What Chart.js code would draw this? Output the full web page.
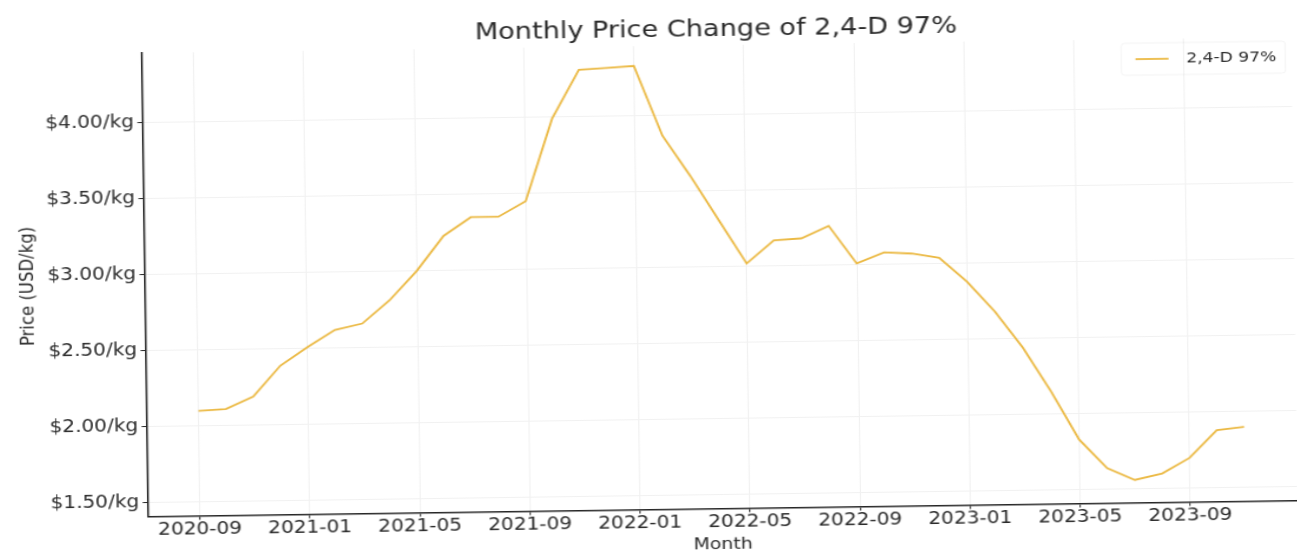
<!DOCTYPE html>
<html>
<head>
<meta charset="utf-8">
<title>Monthly Price Change of 2,4-D 97%</title>
<script src="https://cdn.jsdelivr.net/npm/chart.js@4.4.1/dist/chart.umd.min.js"></script>
<style>
  html, body { margin: 0; padding: 0; background: #ffffff; overflow: hidden; }
  #wrap { width: 1297px; height: 556px; position: relative; overflow: hidden; background: #ffffff; }
  #c { display: block; transform: rotate(-0.8deg); transform-origin: 648.5px 278px; }
</style>
</head>
<body>
<div id="wrap">
  <canvas id="c" width="1099" height="556" style="width:1297px;height:556px;"></canvas>
</div>
<script>
// ---------------- data ----------------
const months = [
  '2020-09', '2020-10', '2020-11', '2020-12',
  '2021-01', '2021-02', '2021-03', '2021-04', '2021-05', '2021-06',
  '2021-07', '2021-08', '2021-09', '2021-10', '2021-11', '2021-12',
  '2022-01', '2022-02', '2022-03', '2022-04', '2022-05', '2022-06',
  '2022-07', '2022-08', '2022-09', '2022-10', '2022-11', '2022-12',
  '2023-01', '2023-02', '2023-03', '2023-04', '2023-05', '2023-06',
  '2023-07', '2023-08', '2023-09', '2023-10', '2023-11'
];
const prices = [
  2.10, 2.11, 2.19, 2.39,
  2.51, 2.62, 2.66, 2.81, 3.00, 3.23,
  3.35, 3.35, 3.45, 3.99, 4.31, 4.32,
  4.33, 3.87, 3.60, 3.31, 3.02, 3.17,
  3.18, 3.26, 3.01, 3.08, 3.07, 3.04,
  2.88, 2.68, 2.44, 2.15, 1.83, 1.64,
  1.56, 1.60, 1.70, 1.88, 1.90
];
const xTickLabels = ['2020-09', '2021-01', '2021-05', '2021-09', '2022-01', '2022-05', '2022-09', '2023-01', '2023-05', '2023-09'];
const yTickValues = [1.5, 2.0, 2.5, 3.0, 3.5, 4.0];
const seriesLabel = '2,4-D 97%';
const chartTitle = 'Monthly Price Change of 2,4-D 97%';
const xAxisTitle = 'Month';
const yAxisTitle = 'Price (USD/kg)';

// ---------------- styling ----------------
const FONT = '"DejaVu Sans", "Liberation Sans", sans-serif';
const TEXT = '#2a2a2a';
const LINE = '#ebb943';
const GRID = '#f1f1f1';
const AXIS = '#262626';

const points = months.map((m, i) => ({ x: i, y: prices[i] }));

const insideLegend = {
  id: 'insideLegend',
  afterDraw(chart) {
    const { ctx, chartArea } = chart;
    const ds = chart.data.datasets[0];
    const r = chartArea.right, t = chartArea.top;
    ctx.save();
    ctx.strokeStyle = 'rgba(0,0,0,0.05)';
    ctx.lineWidth = 1;
    ctx.beginPath();
    ctx.roundRect(r - 144, t + 4, 139, 32, 3);
    ctx.stroke();
    ctx.strokeStyle = ds.borderColor;
    ctx.lineWidth = ds.borderWidth;
    ctx.beginPath();
    ctx.moveTo(r - 132, t + 20);
    ctx.lineTo(r - 104, t + 20);
    ctx.stroke();
    ctx.fillStyle = TEXT;
    ctx.font = '14.5px ' + FONT;
    ctx.textAlign = 'left';
    ctx.textBaseline = 'middle';
    ctx.fillText(ds.label, r - 89, t + 20.6);
    ctx.restore();
  }
};

new Chart(document.getElementById('c'), {
  type: 'line',
  data: {
    datasets: [{
      label: seriesLabel,
      data: points,
      borderColor: LINE,
      backgroundColor: LINE,
      borderWidth: 1.8,
      pointRadius: 0,
      tension: 0,
      fill: false
    }]
  },
  options: {
    responsive: false,
    devicePixelRatio: 1,
    animation: false,
    events: [],
    layout: { padding: { left: 0, right: 2.3, top: 0, bottom: 0 } },
    plugins: {
      legend: { display: false },
      tooltip: { enabled: false },
      title: {
        display: true,
        text: chartTitle,
        color: TEXT,
        fullSize: false,
        font: { family: FONT, size: 23, weight: 'normal' },
        padding: { top: 17, bottom: 1.4 }
      }
    },
    scales: {
      x: {
        type: 'linear',
        min: -1.9,
        max: 39.9,
        afterFit(scale) { scale.height = 46.5; },
        afterBuildTicks(scale) {
          scale.ticks = xTickLabels.map(l => ({ value: months.indexOf(l) }));
        },
        ticks: {
          autoSkip: false,
          maxRotation: 0,
          minRotation: 0,
          padding: 0,
          color: TEXT,
          font: { family: FONT, size: 17 },
          callback: (v) => months[v]
        },
        grid: { color: GRID, lineWidth: 1, drawTicks: true, tickLength: 4, tickColor: AXIS, tickWidth: 1 },
        border: { display: true, color: AXIS, width: 1.5 },
        title: {
          display: true,
          text: xAxisTitle,
          color: TEXT,
          font: { family: FONT, size: 16 },
          padding: { top: 0, bottom: 1 }
        }
      },
      y: {
        type: 'linear',
        min: 1.41,
        max: 4.46,
        afterFit(scale) { scale.width = 122.3; },
        afterBuildTicks(scale) {
          scale.ticks = yTickValues.map(v => ({ value: v }));
        },
        ticks: {
          padding: 3,
          color: TEXT,
          font: { family: FONT, size: 17 },
          callback: (v) => '$' + Number(v).toFixed(2) + '/kg'
        },
        grid: { color: GRID, lineWidth: 1, drawTicks: true, tickLength: 4, tickColor: AXIS, tickWidth: 1 },
        border: { display: true, color: AXIS, width: 1.5 },
        title: {
          display: true,
          text: yAxisTitle,
          color: TEXT,
          font: { family: FONT, size: 16.5 },
          padding: { top: 14, bottom: 0 }
        }
      }
    }
  },
  plugins: [insideLegend]
});
</script>
</body>
</html>
